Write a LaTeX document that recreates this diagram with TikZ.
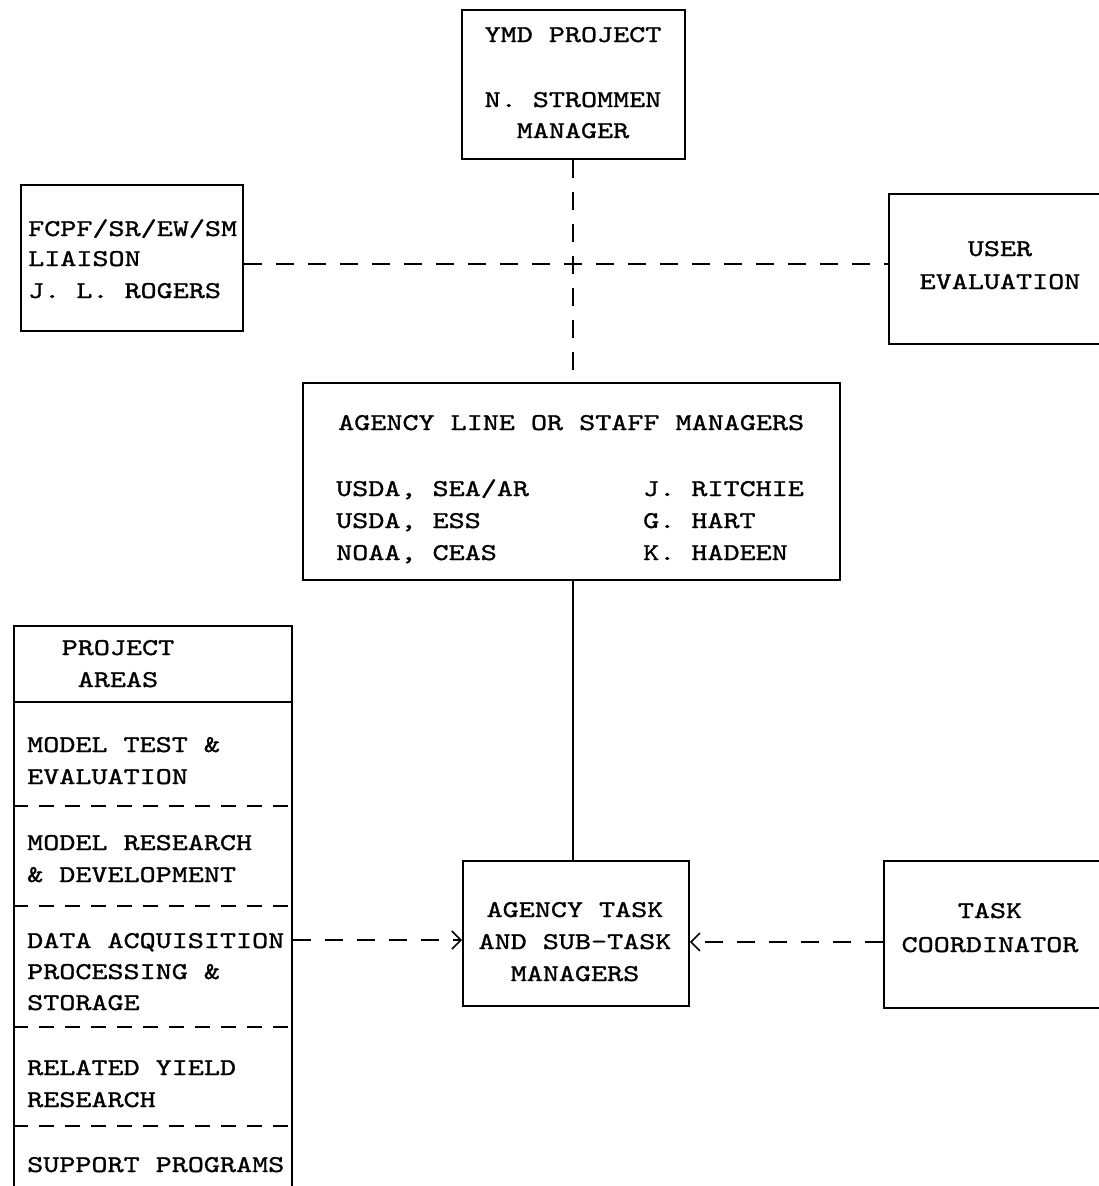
\documentclass[tikz,border=0pt]{standalone}
\usepackage{fontspec}
\setmonofont{lmmono10-regular.otf}[FakeStretch=1.27,FakeBold=1.2]
\usetikzlibrary{arrows.meta}
\newcommand\tyfont{\ttfamily\fontsize{24.1}{32}\selectfont}
\begin{document}
\begin{tikzpicture}[x=1pt,y=-1pt,
  box/.style={draw,line width=1.8pt,inner sep=0pt,anchor=north west},
  tl/.style={anchor=base west,inner sep=0pt,font=\tyfont},
  tc/.style={anchor=base,inner sep=0pt,font=\tyfont},
  conn/.style={line width=1.6pt,dash pattern=on 18pt off 14pt},
  sep/.style={line width=1.6pt,dash pattern=on 15pt off 11pt},
  arr/.style={conn,-{Straight Barb[length=9pt,width=18pt,line width=1.6pt]}}]
\path[use as bounding box,fill=white] (0,0) rectangle (1099,1186);

% boxes
\node[box,minimum width=223pt,minimum height=149pt] (ymd) at (461,9) {};
\node[box,minimum width=222pt,minimum height=146pt] (fcpf) at (20,184) {};
\node[box,minimum width=230pt,minimum height=150pt] (user) at (888,193) {};
\node[box,minimum width=537pt,minimum height=197pt] (agency) at (302,382) {};
\node[box,minimum width=226pt,minimum height=145pt] (task) at (462,860) {};
\node[box,minimum width=230pt,minimum height=147pt] (coord) at (883,860) {};
\node[box,minimum width=278pt,minimum height=600pt] (proj) at (13,625) {};

% texts
\node[tc] (t1) at (573,42) {YMD PROJECT};
\node[tc] (t2) at (573,107) {N. STROMMEN};
\node[tc] (t3) at (573,138) {MANAGER};

\node[tl] (f1) at (28,236) {FCPF/SR/EW/SM};
\node[tl] (f2) at (28,266) {LIAISON};
\node[tl] (f3) at (28,298) {J. L. ROGERS};

\node[tc] (u1) at (1000,256) {USER};
\node[tc] (u2) at (1000,289) {EVALUATION};

\node[tl] (a0) at (338,430) {AGENCY LINE OR STAFF MANAGERS};
\node[tl] (a1) at (336,496) {USDA, SEA/AR};
\node[tl] (a2) at (336,528) {USDA, ESS};
\node[tl] (a3) at (336,560) {NOAA, CEAS};
\node[tl] (b1) at (643,496) {J. RITCHIE};
\node[tl] (b2) at (643,528) {G. HART};
\node[tl] (b3) at (643,560) {K. HADEEN};

\node[tc] (k1) at (575,917) {AGENCY TASK};
\node[tc] (k2) at (575,949) {AND SUB-TASK};
\node[tc] (k3) at (575,981) {MANAGERS};

\node[tc] (c1) at (990,918) {TASK};
\node[tc] (c2) at (990,952) {COORDINATOR};

\node[tc] (p1) at (118,655) {PROJECT};
\node[tc] (p2) at (118,687) {AREAS};
\node[tl] (m1) at (27,752) {MODEL TEST \&};
\node[tl] (m2) at (27,784) {EVALUATION};
\node[tl] (m3) at (27,850) {MODEL RESEARCH};
\node[tl] (m4) at (27,882) {\& DEVELOPMENT};
\node[tl] (m5) at (27,948) {DATA ACQUISITION};
\node[tl] (m6) at (27,979) {PROCESSING \&};
\node[tl] (m7) at (27,1010) {STORAGE};
\node[tl] (m8) at (27,1075) {RELATED YIELD};
\node[tl] (m9) at (27,1107) {RESEARCH};
\node[tl] (m10) at (27,1172) {SUPPORT PROGRAMS};

% separators inside project areas
\draw[line width=1.8pt] (proj.west |- 0,702) -- (proj.east |- 0,702);
\foreach \yy in {806,906,1027,1126}
  \draw[sep] (proj.west |- 0,\yy) -- (proj.east |- 0,\yy);

% connectors
\draw[conn] (ymd.south -| 573,0) -- (agency.north -| 573,0);
\draw[conn] (fcpf.east |- 0,264) -- (user.west |- 0,264);
\draw[line width=1.8pt] (agency.south -| 573,0) -- (task.north -| 573,0);
\draw[arr] (proj.east |- 0,940) -- (task.west |- 0,940);
\draw[arr] (coord.west |- 0,942) -- (task.east |- 0,942);
\end{tikzpicture}
\end{document}
